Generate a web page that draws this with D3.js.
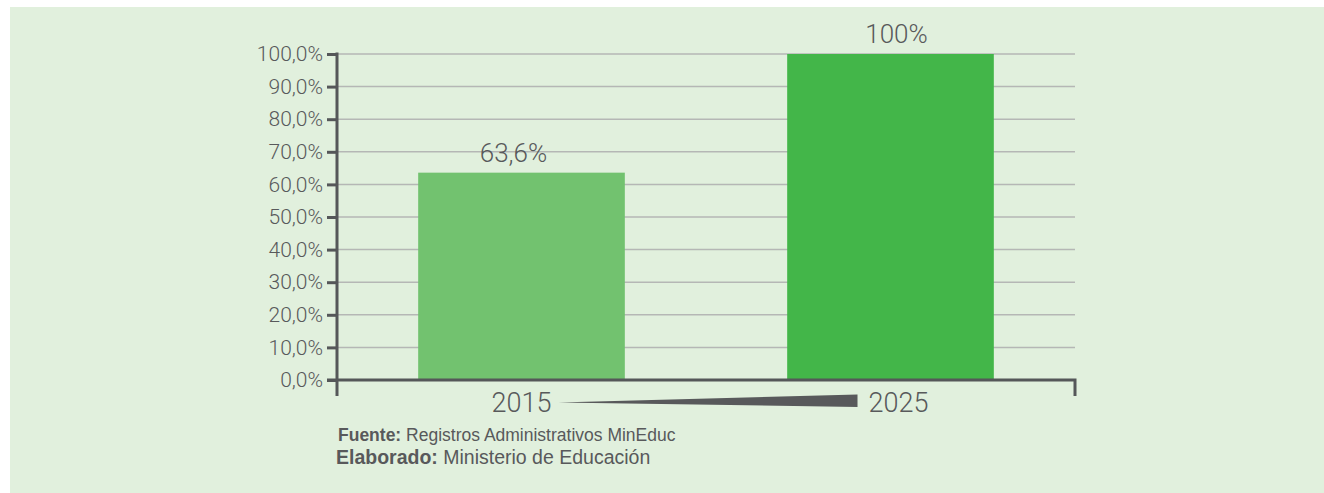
<!doctype html>
<html>
<head>
  <meta charset="utf-8">
  <script src="https://d3js.org/d3.v7.min.js"></script>
  <style>
    body {margin: 0; background: #fff;}
    text {font-family: Roboto, "Liberation Sans", sans-serif; fill: #58595b;}
    text.note {font-family: "Liberation Sans", Arial, sans-serif;}
  </style>
</head>
<body>
  <svg id="chart" width="1324" height="493"></svg>
  <script>
    const width = 1324, height = 493

    const years = ['2015', '2025']
    const values = [63.6, 100]
    const valueLabels = ['63,6%', '100%']
    const yTicks = [0, 10, 20, 30, 40, 50, 60, 70, 80, 90, 100]
    const barColors = ['#72c26f', '#43b649']
    const notes = [
      {bold: 'Fuente:', text: ' Registros Administrativos MinEduc'},
      {bold: 'Elaborado:', text: ' Ministerio de Educación'}
    ]

    const svg = d3.select('#chart')

    // green panel
    svg.append('rect')
      .attr('x', 10).attr('y', 7)
      .attr('width', width - 10).attr('height', height - 7)
      .attr('fill', '#e1f0dd')

    const plotLeft = 337, plotRight = 1075, plotTop = 54, plotBottom = 380

    const x = d3.scaleBand()
      .domain(years)
      .range([plotLeft, plotRight])
      .paddingInner(0.44)
      .paddingOuter(0.22)

    const y = d3.scaleLinear()
      .domain([0, 100])
      .range([plotBottom, plotTop])

    // gridlines
    svg.append('g')
      .selectAll('line')
      .data(yTicks.filter(d => d > 0))
      .join('line')
      .attr('x1', plotLeft).attr('x2', plotRight)
      .attr('y1', d => y(d)).attr('y2', d => y(d))
      .attr('stroke', '#b5b7b5')
      .attr('stroke-width', 1.5)

    // bars
    svg.append('g')
      .selectAll('rect')
      .data(years)
      .join('rect')
      .attr('x', d => x(d))
      .attr('y', (d, i) => y(values[i]))
      .attr('width', x.bandwidth())
      .attr('height', (d, i) => y(0) - y(values[i]))
      .attr('fill', (d, i) => barColors[i])

    // value labels
    svg.append('g')
      .selectAll('text')
      .data(years)
      .join('text')
      .attr('x', d => x(d) + x.bandwidth() / 2)
      .attr('dx', (d, i) => i === 0 ? -8 : 6)
      .attr('y', (d, i) => y(values[i]) - 11)
      .attr('text-anchor', 'middle')
      .attr('font-size', 26)
      .attr('font-weight', 300)
      .text((d, i) => valueLabels[i])

    // y axis
    const yAxis = d3.axisLeft(y)
      .tickValues(yTicks)
      .tickSize(10)
      .tickPadding(4)
      .tickFormat(d => d.toFixed(1).replace('.', ',') + '%')

    const gy = svg.append('g')
      .attr('transform', `translate(${plotLeft},0)`)
      .call(yAxis)
    gy.select('.domain').remove()
    gy.selectAll('.tick line').attr('stroke', '#555759').attr('stroke-width', 3)
    gy.selectAll('.tick text')
      .attr('font-size', 21)
      .attr('font-weight', 300)
      .attr('fill', '#58595b')

    // axis frame
    svg.append('path')
      .attr('d', `M${plotLeft},${plotTop - 1.5}V${plotBottom + 16}M${plotLeft - 10},${plotBottom}H${plotRight}V${plotBottom + 16}`)
      .attr('fill', 'none')
      .attr('stroke', '#555759')
      .attr('stroke-width', 3)

    // year labels
    svg.append('g')
      .selectAll('text')
      .data(years)
      .join('text')
      .attr('x', d => x(d) + x.bandwidth() / 2)
      .attr('dx', (d, i) => i === 1 ? 8 : 0)
      .attr('y', plotBottom + 32)
      .attr('text-anchor', 'middle')
      .attr('font-size', 27)
      .attr('font-weight', 300)
      .text(d => d)

    // growth wedge between the years
    const c0 = x(years[0]) + x.bandwidth() / 2
    const c1 = x(years[1]) + x.bandwidth() / 2
    svg.append('path')
      .attr('d', `M${c0 + 37},${plotBottom + 22.5}L${c1 - 33},${plotBottom + 14.5}V${plotBottom + 27}Z`)
      .attr('fill', '#58595b')

    // source notes
    const note = svg.append('g')
      .selectAll('text')
      .data(notes)
      .join('text')
      .attr('class', 'note')
      .attr('x', (d, i) => i === 0 ? 338 : 336)
      .attr('y', (d, i) => i === 0 ? 441 : 464)
      .attr('font-size', (d, i) => i === 0 ? 17.5 : 19.5)
    note.append('tspan').attr('font-weight', 'bold').text(d => d.bold)
    note.append('tspan').attr('font-weight', 'normal').text(d => d.text)
  </script>
</body>
</html>
